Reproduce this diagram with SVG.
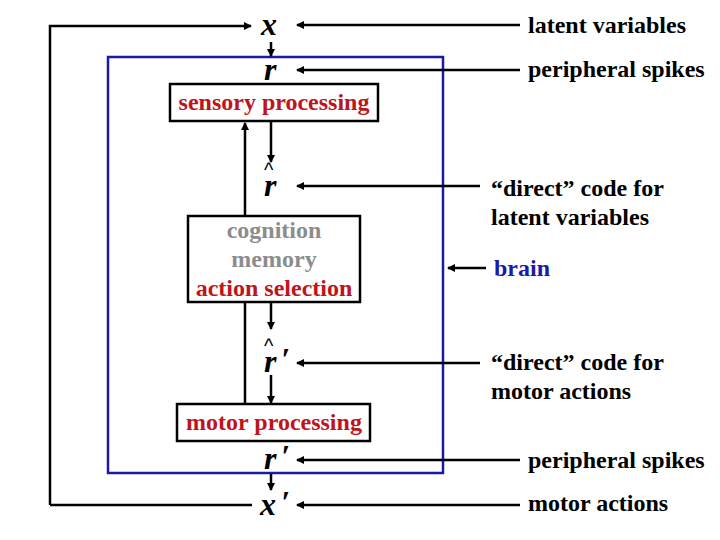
<svg xmlns="http://www.w3.org/2000/svg" width="720" height="540" viewBox="0 0 720 540">
<style>
.t{font-family:"Liberation Serif",serif;font-weight:bold;font-size:24px;fill:#000}
.r{fill:#c0141c}
.g{fill:#8c8c8c}
.v{font-family:"Liberation Serif",serif;font-weight:bold;font-style:italic;font-size:32px}
.h{font-family:"Liberation Sans",sans-serif;font-size:20px}
.ln{stroke:#000;stroke-width:2.5;fill:none}
.box{fill:#fff;stroke:#000;stroke-width:2.5}
</style>
<defs><marker id="a" markerWidth="8" markerHeight="8" refX="7" refY="4" orient="auto" markerUnits="userSpaceOnUse"><path d="M0,0L8,4L0,8z"/></marker></defs>
<rect x="108" y="57" width="335" height="416" fill="none" stroke="#1a1aa8" stroke-width="2.5"/>
<g id="connectors">
<path class="ln" d="M50,505V26H251" marker-end="url(#a)"/>
<path class="ln" d="M50,505H252"/>
<path class="ln" d="M271,42V56" marker-end="url(#a)"/>
<path class="ln" d="M271,121V162" marker-end="url(#a)"/>
<path class="ln" d="M271,302V329" marker-end="url(#a)"/>
<path class="ln" d="M271,375V403" marker-end="url(#a)"/>
<path class="ln" d="M271,474V490" marker-end="url(#a)"/>
<path class="ln" d="M245,404V123" marker-end="url(#a)" stroke-width="2"/>
<path class="ln" d="M520,25H297" marker-end="url(#a)"/>
<path class="ln" d="M520,70H297" marker-end="url(#a)"/>
<path class="ln" d="M480,186H297" marker-end="url(#a)"/>
<path class="ln" d="M480,363H297" marker-end="url(#a)" stroke-width="1.5"/>
<path class="ln" d="M520,460H297" marker-end="url(#a)"/>
<path class="ln" d="M520,505H297" marker-end="url(#a)"/>
<path class="ln" d="M486,268H448" marker-end="url(#a)" stroke-width="1.5"/>
</g>
<g id="sensory"><rect class="box" x="170" y="84" width="208" height="37"/><text class="t r" x="274" y="110" text-anchor="middle">sensory processing</text></g>
<g id="cognition"><rect class="box" x="188" y="216" width="172" height="86"/>
<text class="t g" x="274" y="238" text-anchor="middle">cognition</text>
<text class="t g" x="274" y="267" text-anchor="middle">memory</text>
<text class="t r" x="274" y="296" text-anchor="middle">action selection</text></g>
<g id="motor"><rect class="box" x="177" y="404" width="193" height="37"/><text class="t r" x="274" y="430" text-anchor="middle">motor processing</text></g>
<g id="vars">
<text class="v" x="261" y="35">x</text>
<text class="v" x="264" y="80">r</text>
<text class="v" x="264" y="196">r</text><text class="h" x="264" y="177">^</text>
<text class="v" x="264" y="372">r</text><text class="h" x="264" y="353">^</text><text class="v" x="281" y="370">′</text>
<text class="v" x="264" y="469">r</text><text class="v" x="281" y="467">′</text>
<text class="v" x="260" y="515">x</text><text class="v" x="281" y="513">′</text>
</g>
<g id="labels">
<text class="t" x="528" y="33">latent variables</text>
<text class="t" x="528" y="77">peripheral spikes</text>
<text class="t" x="491" y="196">“direct” code for</text>
<text class="t" x="491" y="225">latent variables</text>
<text class="t" x="494" y="276" style="fill:#1a1aa8">brain</text>
<text class="t" x="491" y="370">“direct” code for</text>
<text class="t" x="491" y="399">motor actions</text>
<text class="t" x="528" y="468">peripheral spikes</text>
<text class="t" x="528" y="511">motor actions</text>
</g>
</svg>
